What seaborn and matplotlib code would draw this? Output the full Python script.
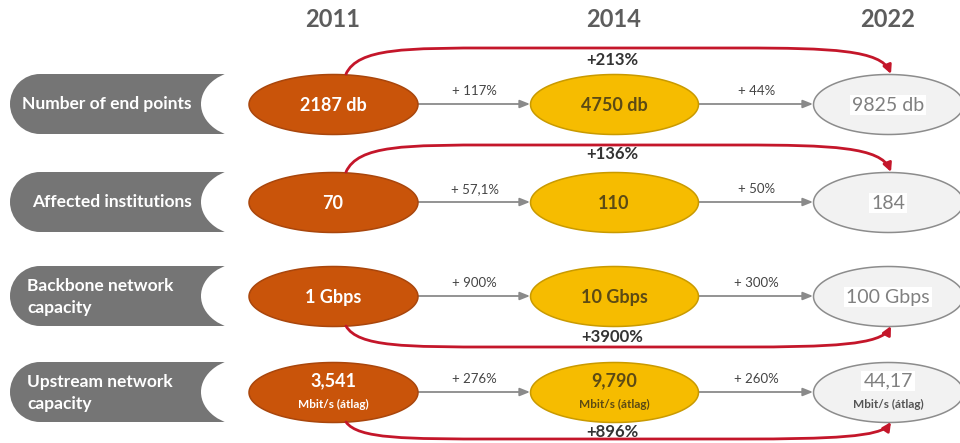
import numpy as np
import pandas as pd
import matplotlib.pyplot as plt
import seaborn as sns
from matplotlib.path import Path
from matplotlib.patches import Circle, Rectangle, Ellipse, FancyArrowPatch

# chart content
years = ["2011", "2014", "2022"]
metrics = ["Number of end points", "Affected institutions",
           "Backbone network\ncapacity", "Upstream network\ncapacity"]
values_2011 = ["2187 db", "70", "1 Gbps", "3,541"]
values_2014 = ["4750 db", "110", "10 Gbps", "9,790"]
values_2022 = ["9825 db", "184", "100 Gbps", "44,17"]
units = ["", "", "", "Mbit/s (átlag)"]
change_first = ["+ 117%", "+ 57,1%", "+ 900%", "+ 276%"]
change_second = ["+ 44%", "+ 50%", "+ 300%", "+ 260%"]
change_total = ["+213%", "+136%", "+3900%", "+896%"]
arc_side = ["top", "top", "bottom", "bottom"]

# layout (pixel space)
col_x = [333, 614, 888]
row_y = [104, 202, 296, 392]
arc_gap = [26, 27, 21, 17]
total_y = [60, 154, 337, 432]
ell_w = [169, 168, 150]
ell_h = 60
fills = ["#c9540a", "#f6bc00", "#f2f2f2"]
edges = ["#a9460c", "#c99a00", "#8c8c8c"]
text_cols = ["white", "#5c4a14", "#808080"]

sns.set_theme(style="white")
plt.rcParams["font.family"] = ["Lato", "DejaVu Sans"]

fig = plt.figure(figsize=(9.6, 4.43), dpi=100)
ax = fig.add_axes([0, 0, 1, 1])

rows = []
for i, m in enumerate(metrics):
    for j, yr in enumerate(years):
        rows.append({"metric": m, "year": yr, "x": col_x[j], "y": row_y[i]})
df = pd.DataFrame(rows)


def ellipse_marker(w, h):
    t = np.linspace(0, 2 * np.pi, 120)
    return Path(np.column_stack([np.cos(t), (h / w) * np.sin(t)]), closed=True)


for j, yr in enumerate(years):
    sns.scatterplot(data=df[df["year"] == yr], x="x", y="y",
                    marker=ellipse_marker(ell_w[j], ell_h),
                    s=(ell_w[j] * 0.72) ** 2, color=fills[j],
                    edgecolor=edges[j], linewidth=1.1,
                    legend=False, ax=ax, zorder=3)

ax.set_xlim(0, 960)
ax.set_ylim(443, 0)
ax.axis("off")

# year headers
for j, yr in enumerate(years):
    ax.text(col_x[j], 19, yr, ha="center", va="center", fontsize=17,
            fontweight="bold", color="#5d5d5d")

values = [values_2011, values_2014, values_2022]
for i, m in enumerate(metrics):
    y = row_y[i]
    # left label tab
    ax.add_patch(Circle((40, y), 30, color="#757575", lw=0, zorder=1))
    ax.add_patch(Rectangle((40, y - 30), 204, 60, color="#757575", lw=0, zorder=1))
    ax.add_patch(Ellipse((246, y), 90, 68, color="white", lw=0, zorder=2))
    if "\n" in m:
        ax.text(27, y + 1, m, ha="left", va="center", fontsize=12.5,
                fontweight="bold", color="white", linespacing=1.45, zorder=4)
    else:
        ax.text(107 if i == 0 else 112, y, m, ha="center", va="center",
                fontsize=12.5, fontweight="bold", color="white", zorder=4)

    # values in ellipses
    for j in range(3):
        weight = "normal" if j == 2 else "bold"
        size = 14 if j == 2 else 13
        box = dict(boxstyle="square,pad=0.1", fc="white", ec="none") if j == 2 else None
        if units[i]:
            ax.text(col_x[j], y - 11, values[j][i], ha="center", va="center",
                    fontsize=size, fontweight=weight, color=text_cols[j],
                    zorder=5, bbox=box)
            ax.text(col_x[j], y + 12, units[i], ha="center", va="center",
                    fontsize=8.5, fontweight="bold",
                    color="white" if j == 0 else ("#5c4a14" if j == 1 else "#555555"),
                    zorder=5)
        else:
            ax.text(col_x[j], y + 1, values[j][i], ha="center", va="center",
                    fontsize=size, fontweight=weight, color=text_cols[j],
                    zorder=5, bbox=box)

    # step arrows
    for j, lab in enumerate([change_first[i], change_second[i]]):
        x0 = col_x[j] + ell_w[j] / 2
        x1 = col_x[j + 1] - ell_w[j + 1] / 2
        ax.annotate("", xy=(x1, y), xytext=(x0, y),
                    arrowprops=dict(arrowstyle="-|>,head_length=0.5,head_width=0.2",
                                    color="#8a8a8a", lw=1.3, shrinkA=0, shrinkB=0),
                    zorder=2)
        ax.text((x0 + x1) / 2 + 1, y - 13, lab, ha="center", va="center",
                fontsize=9.5, color="#444444")

    # total arc
    sgn = -1 if arc_side[i] == "top" else 1
    ya = y + sgn * ell_h / 2
    yp = ya + sgn * arc_gap[i]
    sx, ex = col_x[0] + 13, col_x[2] + 3
    verts = [(sx, ya), (sx + 12, yp), (sx + 60, yp), (sx + 150, yp),
             (ex - 150, yp), (ex - 150, yp),
             (ex - 60, yp), (ex - 10, yp - sgn * 2), (ex, ya)]
    codes = [Path.MOVETO, Path.CURVE4, Path.CURVE4, Path.CURVE4,
             Path.LINETO, Path.LINETO,
             Path.CURVE4, Path.CURVE4, Path.CURVE4]
    ax.add_patch(FancyArrowPatch(path=Path(verts, codes),
                                 arrowstyle="-|>,head_length=0.5,head_width=0.25",
                                 mutation_scale=10, color="#c4162a", lw=2, zorder=4))
    ax.text(612, total_y[i], change_total[i], ha="center", va="center", fontsize=12,
            fontweight="bold", color="#333333", zorder=5)

fig.savefig("out.png", dpi=100)
